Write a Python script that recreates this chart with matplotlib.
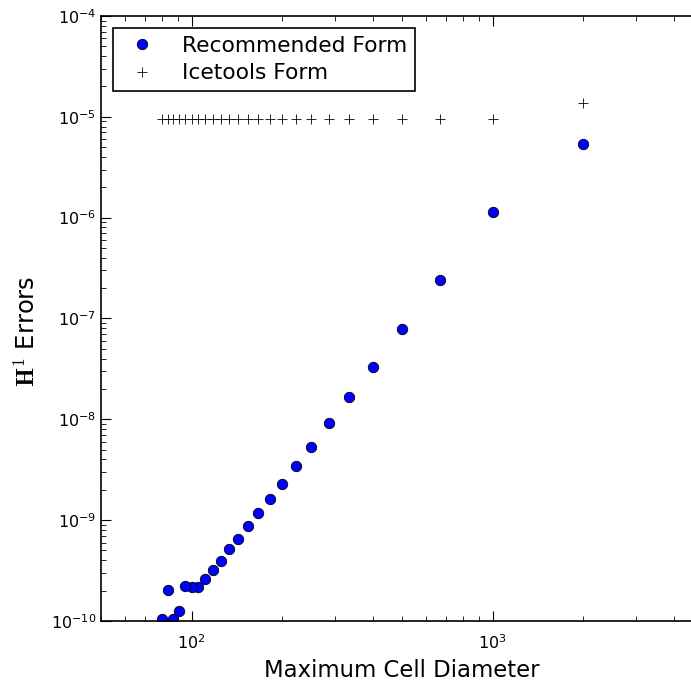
import numpy as np
import matplotlib.pyplot as plt
from matplotlib.ticker import NullFormatter

# maximum cell diameter for each mesh
diam = [2000, 1000, 666.7, 500, 400, 333.3, 285.7, 250, 222.2, 200, 181.8,
        166.7, 153.8, 142.9, 133.3, 125, 117.6, 111.1, 105.3, 100, 95.24,
        90.91, 86.96, 83.33, 80]

# H1 errors, recommended form
err_rec = [5.38e-6, 1.14e-6, 2.41e-7, 7.87e-8, 3.30e-8, 1.65e-8, 9.09e-9,
           5.37e-9, 3.47e-9, 2.30e-9, 1.63e-9, 1.17e-9, 8.69e-10, 6.55e-10,
           5.14e-10, 3.97e-10, 3.18e-10, 2.61e-10, 2.19e-10, 2.19e-10,
           2.24e-10, 1.26e-10, 1.05e-10, 2.03e-10, 1.05e-10]

# H1 errors, icetools form
err_ice = [1.38e-5] + [9.6e-6] * 24

fig = plt.figure(figsize=(6.91, 6.86), dpi=100)
ax = fig.add_axes([0.1462, 0.0948, 0.8711, 0.8819])

ax.loglog(diam, err_rec, 'o', color='blue', markeredgecolor='black',
          markeredgewidth=0.6, markersize=7.5, label='Recommended Form')
ax.loglog(diam, err_ice, '+', color='black', markersize=7,
          markeredgewidth=0.6, label='Icetools Form')

ax.set_xlim(50, 5000)
ax.set_ylim(1e-10, 1e-4)
ax.xaxis.set_minor_formatter(NullFormatter())
ax.yaxis.set_minor_formatter(NullFormatter())

ax.tick_params(which='both', direction='in', top=True, right=True,
               labelsize=11.5)
ax.tick_params(axis='x', which='major', pad=9)
ax.tick_params(which='major', length=7, width=0.8)
ax.tick_params(which='minor', length=3.5, width=0.6)
for s in ax.spines.values():
    s.set_linewidth(1.2)

ax.set_xlabel('Maximum Cell Diameter', fontsize=16.4, labelpad=5)
ax.set_ylabel(r'$\mathbf{H}^1$ Errors', fontsize=17.5, math_fontfamily='cm')
ax.yaxis.set_label_coords(-0.102, 0.478)

leg = ax.legend(loc='upper left', numpoints=1, fontsize=15.7,
                fancybox=False, framealpha=1, edgecolor='black',
                borderaxespad=0.55, labelspacing=0.35, borderpad=0.35)
leg.get_frame().set_linewidth(1.2)

fig.savefig('out.png', dpi=100)
